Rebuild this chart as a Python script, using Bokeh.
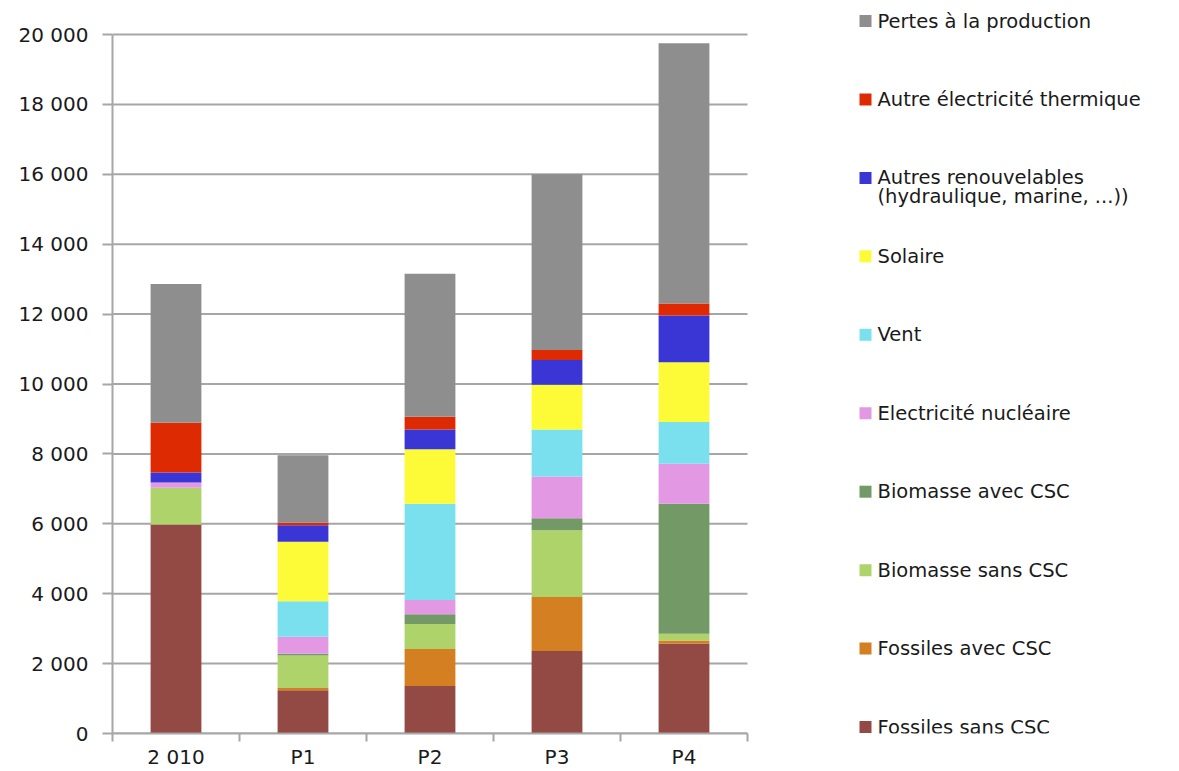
from bokeh.plotting import figure
from bokeh.models import Range1d, FixedTicker, ColumnDataSource
from bokeh.embed import file_html
from bokeh.resources import INLINE
from bokeh.core.properties import value

categories = ["2 010", "P1", "P2", "P3", "P4"]

fossiles_sans_csc = [5980, 1240, 1360, 2360, 2575]
fossiles_avec_csc = [0, 60, 1060, 1545, 85]
biomasse_sans_csc = [1050, 930, 710, 1910, 195]
biomasse_avec_csc = [0, 50, 280, 345, 3720]
electricite_nucleaire = [150, 485, 410, 1190, 1140]
vent = [0, 1020, 2755, 1350, 1200]
solaire = [0, 1700, 1555, 1275, 1705]
autres_renouvelables = [290, 475, 570, 710, 1340]
autre_thermique = [1420, 70, 365, 290, 345]
pertes_production = [3970, 1930, 4090, 5025, 7445]

series_names = [
    "Fossiles sans CSC",
    "Fossiles avec CSC",
    "Biomasse sans CSC",
    "Biomasse avec CSC",
    "Electricité nucléaire",
    "Vent",
    "Solaire",
    "Autres renouvelables\n(hydraulique, marine, ...))",
    "Autre électricité thermique",
    "Pertes à la production",
]
series_values = [
    fossiles_sans_csc, fossiles_avec_csc, biomasse_sans_csc, biomasse_avec_csc,
    electricite_nucleaire, vent, solaire, autres_renouvelables, autre_thermique,
    pertes_production,
]
colors = ["#934A45", "#D37F22", "#AFD36B", "#739966", "#E398E3",
          "#7BE0EE", "#FDFB37", "#3A36D6", "#DE2A02", "#8E8E8E"]

y_ticks = [0, 2000, 4000, 6000, 8000, 10000, 12000, 14000, 16000, 18000, 20000]
y_tick_labels = ["0", "2 000", "4 000", "6 000", "8 000", "10 000",
                 "12 000", "14 000", "16 000", "18 000", "20 000"]

FONT = "DejaVu Sans"
GRID = "#A6A6A6"
TXT = "#1a1a1a"

# canvas layout (pixels)
W, H = 1179, 771
AXIS_X = 112          # y axis position
PLOT_RIGHT = 747      # end of the category area
ZERO_Y = 733          # baseline
TOP_Y = 34            # level of the highest tick
n = len(categories)
px_per_cat = (PLOT_RIGHT - AXIS_X) / n
y_max_tick = y_ticks[-1]
px_per_unit = (ZERO_Y - TOP_Y) / y_max_tick

x_start = -0.5
x_end = x_start + (W - AXIS_X) / px_per_cat
y_end = ZERO_Y / px_per_unit

def dx(px):
    return x_start + (px - AXIS_X) / px_per_cat

def dy(py):
    return (ZERO_Y - py) / px_per_unit

keys = [f"s{i}" for i in range(len(series_names))]
data = {"x": list(range(n))}
for k, v in zip(keys, series_values):
    data[k] = v
source = ColumnDataSource(data)

p = figure(width=W, height=H,
           x_range=Range1d(x_start, x_end),
           y_range=Range1d(0, y_end),
           output_backend="svg", toolbar_location=None,
           min_border_left=AXIS_X, min_border_right=0,
           min_border_top=0, min_border_bottom=H - ZERO_Y)
p.outline_line_color = None
p.background_fill_color = "white"
p.border_fill_color = "white"
p.grid.visible = False

# horizontal gridlines, limited to the category area
p.segment(x0=[x_start] * len(y_ticks), x1=[x_start + n] * len(y_ticks),
          y0=y_ticks, y1=y_ticks, line_color=GRID, line_width=2)

p.vbar_stack(keys, x="x", width=0.4, color=colors, line_color=None, source=source)

# x axis
xa = p.xaxis[0]
xa.bounds = (x_start, x_start + n)
xa.ticker = FixedTicker(ticks=list(range(n)),
                        minor_ticks=[x_start + i for i in range(n + 1)])
xa.major_label_overrides = {i: c for i, c in enumerate(categories)}
xa.major_tick_out = 0
xa.major_tick_in = 0
xa.minor_tick_out = 8
xa.minor_tick_in = 0
xa.minor_tick_line_color = GRID
xa.minor_tick_line_width = 2
xa.axis_line_color = GRID
xa.axis_line_width = 2
xa.major_label_standoff = 3
xa.major_label_text_font = FONT
xa.major_label_text_font_size = "20px"
xa.major_label_text_color = TXT

# y axis
ya = p.yaxis[0]
ya.bounds = (0, y_max_tick)
ya.ticker = FixedTicker(ticks=y_ticks, minor_ticks=[])
ya.major_label_overrides = {t: l for t, l in zip(y_ticks, y_tick_labels)}
ya.major_tick_out = 10
ya.major_tick_in = 0
ya.major_tick_line_color = GRID
ya.major_tick_line_width = 2
ya.minor_tick_line_color = None
ya.axis_line_color = GRID
ya.axis_line_width = 2
ya.major_label_standoff = 14
ya.major_label_text_font = FONT
ya.major_label_text_font_size = "20px"
ya.major_label_text_color = TXT

# legend (top item = last series)
leg_top = 20.5
pitch = 78.45
marker_cx = 865
text_x = 877
line_gap = 19
mx, my, mc = [], [], []
tx, ty, tt = [], [], []
for i, idx in enumerate(reversed(range(len(series_names)))):
    yc = leg_top + i * pitch
    mx.append(dx(marker_cx))
    my.append(dy(yc))
    mc.append(colors[idx])
    for k, line in enumerate(series_names[idx].split("\n")):
        tx.append(dx(text_x))
        ty.append(dy(yc + k * line_gap))
        tt.append(line)

p.rect(x=mx, y=my, width=12, height=12, width_units="screen", height_units="screen",
       color=mc, line_color=None)
p.text(x=tx, y=ty, text=tt, text_font=value(FONT), text_font_size="19.5px",
       text_baseline="middle", text_align="left", text_color=TXT)

open("out.html", "w").write(file_html(p, INLINE))
